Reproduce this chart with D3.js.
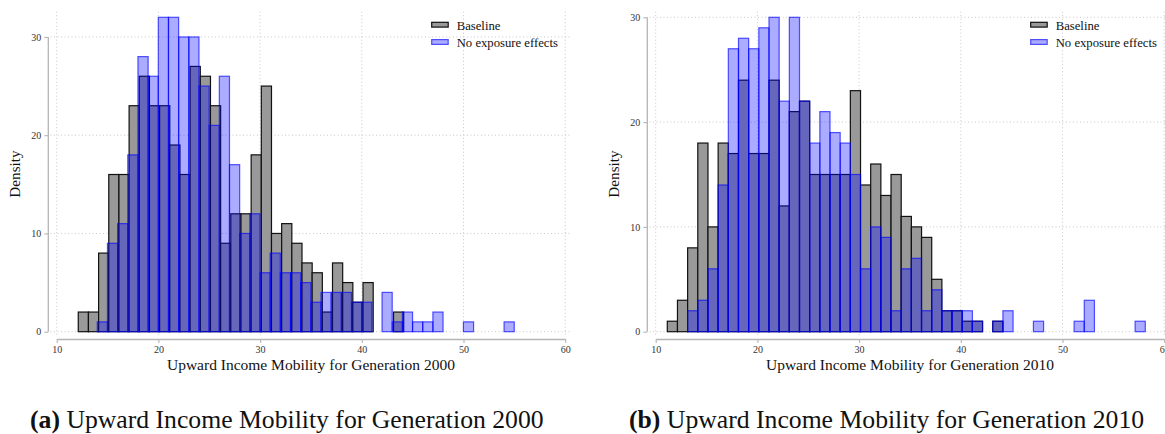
<!DOCTYPE html>
<html>
<head>
<meta charset="utf-8">
<script src="https://cdn.jsdelivr.net/npm/d3@7"></script>
<style>
  body { margin: 0; background: #fff; }
  svg { display: block; font-family: "Liberation Serif", serif; }
</style>
</head>
<body>
<svg id="chart" width="1165" height="434"></svg>
<script>
// bin counts (bins are 1 unit wide)
const binWidth = 1

const baselineStart2000 = 12.12
const baseline2000 = [2,2,8,16,16,23,26,23,23,19,16,27,26,23,9,12,12,18,25,10,11,9,7,6,2,7,5,3,5,0,0,2]
const noExposureStart2000 = 13.99
const noExposure2000 = [1,9,11,18,28,26,32,32,30,30,25,21,26,17,10,12,6,8,6,6,5,3,4,4,4,3,3,0,4,1,2,1,1,2,0,0,1,0,0,0,1]

const baselineStart2010 = 11.14
const baseline2010 = [1,3,8,18,10,18,17,24,17,17,24,12,21,22,15,15,15,15,23,14,16,13,15,11,10,9,5,2,2,1,1,0,1]
const noExposureStart2010 = 13.14
const noExposure2010 = [2,3,6,14,27,28,27,29,30,22,30,22,18,21,19,18,15,6,10,9,2,6,7,2,4,2,2,2,1,0,1,2,0,0,1,0,0,0,1,3,0,0,0,0,1]

const xTicks = [10, 20, 30, 40, 50, 60]
const yTicks = [0, 10, 20, 30]
const legendLabels = ["Baseline", "No exposure effects"]
const yLabel = "Density"

const panels = [
    { left: 0, tag: "(a)", title: "Upward Income Mobility for Generation 2000",
      baseStart: baselineStart2000, base: baseline2000,
      blueStart: noExposureStart2000, blue: noExposure2000 },
    { left: 599, tag: "(b)", title: "Upward Income Mobility for Generation 2010",
      baseStart: baselineStart2010, base: baseline2010,
      blueStart: noExposureStart2010, blue: noExposure2010 }
]

const svg = d3.select("#chart")

const toBins = (start, counts) => counts
    .map((c, i) => ({ x0: start + i * binWidth, x1: start + (i + 1) * binWidth, n: c }))
    .filter(d => d.n > 0)

function drawPanel(p) {
    let g = svg.append("g").attr("transform", `translate(${p.left},0)`)

    let xScale = d3.scaleLinear().domain([10, 60]).range([56.7, 565.2])
    let maxY = d3.max(p.base.concat(p.blue))
    let yScale = d3.scaleLinear().domain([0, maxY]).range([331.7, 17.3])

    let axisY = 48.3, axisX = 339

    // dotted grid
    g.append("g").selectAll("line")
        .data(yTicks).enter().append("line")
        .attr("x1", 50.5).attr("x2", 570)
        .attr("y1", d => yScale(d)).attr("y2", d => yScale(d))
        .attr("stroke", "#c8c8c8").attr("stroke-dasharray", "1,2.5")
    g.append("g").selectAll("line")
        .data(xTicks).enter().append("line")
        .attr("x1", d => xScale(d)).attr("x2", d => xScale(d))
        .attr("y1", 11.7).attr("y2", 336)
        .attr("stroke", "#c8c8c8").attr("stroke-dasharray", "1,2.5")

    // baseline bars
    g.append("g").selectAll("rect")
        .data(toBins(p.baseStart, p.base)).enter().append("rect")
        .attr("x", d => xScale(d.x0))
        .attr("width", d => xScale(d.x1) - xScale(d.x0))
        .attr("y", d => yScale(d.n))
        .attr("height", d => yScale(0) - yScale(d.n))
        .attr("fill", "#999")
        .attr("stroke", "#111")
        .attr("stroke-width", 1.2)

    // no exposure effects bars, drawn on top
    g.append("g").selectAll("rect")
        .data(toBins(p.blueStart, p.blue)).enter().append("rect")
        .attr("x", d => xScale(d.x0))
        .attr("width", d => xScale(d.x1) - xScale(d.x0))
        .attr("y", d => yScale(d.n))
        .attr("height", d => yScale(0) - yScale(d.n))
        .attr("fill", "#0000ff").attr("fill-opacity", 0.33)
        .attr("stroke", "#0000ff").attr("stroke-opacity", 0.65)
        .attr("stroke-width", 1.2)

    // y axis
    let yAxis = d3.axisLeft(yScale).tickValues(yTicks).tickSize(4).tickSizeOuter(0).tickPadding(3)
    let ya = g.append("g").attr("transform", `translate(${axisY},0)`).call(yAxis)
    ya.select(".domain").remove()
    ya.append("line")
        .attr("y1", yScale(d3.max(yTicks))).attr("y2", yScale(0))
        .attr("stroke", "#b5b5b5").attr("stroke-width", 1.3)

    // x axis
    let xAxis = d3.axisBottom(xScale).tickValues(xTicks).tickSize(4).tickSizeOuter(0).tickPadding(3)
    let xa = g.append("g").attr("transform", `translate(0,${axisX})`).call(xAxis)
    xa.select(".domain").attr("stroke", "#b5b5b5").attr("stroke-width", 1.3)

    g.selectAll(".tick line").attr("stroke", "#b5b5b5").attr("stroke-width", 1.1)
    g.selectAll(".tick text")
        .attr("font-family", "Liberation Serif")
        .attr("font-size", 10)
        .attr("fill", "#333")

    // axis titles
    g.append("text")
        .attr("transform", `translate(19.5,174) rotate(-90)`)
        .attr("text-anchor", "middle")
        .attr("font-size", 15.2)
        .attr("fill", "#111")
        .text(yLabel)
    g.append("text")
        .attr("x", (xScale(10) + xScale(60)) / 2).attr("y", 370)
        .attr("text-anchor", "middle")
        .attr("font-size", 15.5)
        .attr("fill", "#111")
        .text(p.title)

    // legend
    let lg = g.append("g").attr("transform", `translate(${xScale(10) + 375},0)`)
    let swatch = [
        { fill: "#999", fo: 1, stroke: "#111", so: 1 },
        { fill: "#0000ff", fo: 0.33, stroke: "#0000ff", so: 0.65 }
    ]
    legendLabels.forEach((lab, i) => {
        let yy = 22.3 + i * 17.3
        lg.append("rect")
            .attr("x", 0).attr("y", yy).attr("width", 16.5).attr("height", 4.8)
            .attr("fill", swatch[i].fill).attr("fill-opacity", swatch[i].fo)
            .attr("stroke", swatch[i].stroke).attr("stroke-opacity", swatch[i].so)
            .attr("stroke-width", 1.2)
        lg.append("text")
            .attr("x", 25).attr("y", yy + 7.3)
            .attr("font-size", 12.7)
            .attr("fill", "#111")
            .text(lab)
    })

    // sub-figure caption
    let cap = svg.append("text")
        .attr("x", p.left + 30).attr("y", 427.5)
        .attr("font-size", 25.7)
        .attr("fill", "#111")
    cap.append("tspan").attr("font-weight", "bold").text(p.tag)
    cap.append("tspan").text(" " + p.title)
}

panels.forEach(drawPanel)
</script>
</body>
</html>
